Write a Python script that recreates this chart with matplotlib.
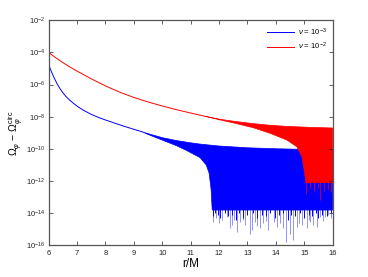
import numpy as np
import matplotlib
matplotlib.use("Agg")
import matplotlib.pyplot as plt

plt.rcParams['font.family'] = ['Liberation Sans', 'DejaVu Sans']
plt.rcParams['mathtext.fontset'] = 'custom'
plt.rcParams['mathtext.rm'] = 'Liberation Sans'
plt.rcParams['mathtext.it'] = 'Liberation Sans:italic'

# ---- nu = 1e-3 (blue), log10 values ----
blue_r = [6.0, 6.1, 6.2, 6.3, 6.4, 6.5, 6.6, 6.75, 6.9, 7.05, 7.25, 7.5, 7.75, 8.0,
          8.3, 8.6, 9.0, 9.3]
blue_log = [-4.75, -5.2, -5.6, -5.95, -6.25, -6.5, -6.72, -6.98, -7.2, -7.4, -7.62,
            -7.85, -8.04, -8.2, -8.38, -8.56, -8.78, -8.94]
blue_up_r = [9.3, 9.5, 10.0, 10.5, 11.0, 11.33, 12.0, 13.0, 14.0, 15.0, 16.0]
blue_up_log = [-8.94, -9.05, -9.3, -9.48, -9.62, -9.7, -9.82, -9.93, -9.99, -10.03, -10.05]
blue_lo_r = [9.3, 9.5, 10.0, 10.5, 10.86, 11.33, 11.55, 11.65, 11.72, 11.76, 16.0]
blue_lo_log = [-8.94, -9.1, -9.45, -9.8, -10.1, -10.54, -11.0, -11.5, -12.5, -13.8, -13.8]
blue_spike_r = [11.80, 11.90, 12.10, 12.27, 12.39, 12.51, 12.63, 12.74, 12.92, 13.10,
                13.15, 13.27, 13.45, 13.56, 13.74, 13.92, 14.04, 14.15, 14.36, 14.50,
                14.60, 14.74, 14.92, 15.09, 15.21, 15.32, 15.44, 15.56, 15.74, 15.85,
                12.0, 12.45, 12.85, 13.35, 13.65, 14.25, 14.8, 15.15, 15.65, 15.95]
blue_spike_log = [-14.53, -14.32, -14.43, -14.22, -14.94, -14.43, -15.15, -14.53, -14.74, -15.26,
                  -15.05, -14.53, -14.94, -14.63, -15.05, -14.53, -14.84, -14.63, -15.78, -15.26,
                  -15.67, -14.84, -14.74, -14.94, -14.53, -14.74, -14.84, -14.22, -14.22, -14.11,
                  -14.6, -14.7, -14.4, -14.8, -14.5, -14.9, -14.6, -14.4, -14.5, -14.3]
blue_edge_r = [11.78, 11.85, 11.95, 12.05, 12.2, 12.33, 12.45, 12.58, 12.7, 12.85, 13.0,
               13.2, 13.35, 13.5, 13.65, 13.8, 13.98, 14.1, 14.25, 14.42, 14.55, 14.68,
               14.85, 15.0, 15.15, 15.27, 15.4, 15.5, 15.62, 15.8, 15.95]
blue_edge_log = [-14.2, -14.0, -14.1, -14.3, -14.0, -14.2, -14.1, -14.4, -14.0, -14.3, -14.1,
                 -14.0, -14.3, -14.1, -14.2, -14.0, -14.3, -14.1, -14.0, -14.4, -14.1, -14.2,
                 -14.0, -14.3, -14.1, -14.2, -14.0, -14.3, -14.1, -14.2, -14.0]

# ---- nu = 1e-2 (red) ----
red_r = [6.0, 6.25, 6.5, 6.75, 7.0, 7.5, 8.0, 8.5, 9.0, 9.5, 10.0, 10.5, 11.0, 11.5]
red_log = [-4.0, -4.33, -4.63, -4.91, -5.16, -5.64, -6.08, -6.47, -6.8, -7.08, -7.33,
           -7.56, -7.77, -7.97]
red_up_r = [11.5, 12.04, 12.6, 13.21, 13.8, 14.39, 15.2, 16.0]
red_up_log = [-7.97, -8.16, -8.3, -8.43, -8.53, -8.6, -8.66, -8.7]
red_lo_r = [11.5, 12.04, 12.6, 13.2, 13.8, 14.39, 14.74, 14.92, 15.03, 15.06, 16.0]
red_lo_log = [-7.97, -8.2, -8.42, -8.68, -9.03, -9.45, -9.87, -10.49, -11.73, -12.1, -12.1]
red_spike_r = [15.07, 15.2, 15.35, 15.5, 15.56, 15.7, 15.85, 15.95]
red_spike_log = [-12.8, -12.5, -12.6, -12.4, -13.2, -12.6, -12.5, -12.7]

labels = [r'$\nu$ = 10$^{-3}$', r'$\nu$ = 10$^{-2}$']
xticks = [6, 7, 8, 9, 10, 11, 12, 13, 14, 15, 16]
ytick_exp = [-2, -4, -6, -8, -10, -12, -14, -16]

blue = '#0000ff'
red = '#ff0000'

fig = plt.figure(figsize=(3.68, 2.77), dpi=100)
ax = fig.add_axes([0.132, 0.114, 0.772, 0.813])
ax.set_yscale('log')

def p(v):
    return 10.0 ** np.asarray(v, dtype=float)

# blue
ax.plot(blue_r, p(blue_log), color=blue, lw=0.7, label=labels[0])
ax.fill(np.r_[blue_up_r, blue_lo_r[::-1]], p(np.r_[blue_up_log, blue_lo_log[::-1]]),
        color=blue, lw=0.5)
ax.vlines(blue_edge_r, p(-13.7), p(blue_edge_log), color=blue, lw=0.7)
ax.vlines(blue_spike_r, p(-13.7), p(blue_spike_log), color=blue, lw=0.6, alpha=0.5)

# red
ax.plot(red_r, p(red_log), color=red, lw=0.7, label=labels[1])
ax.fill(np.r_[red_up_r, red_lo_r[::-1]], p(np.r_[red_up_log, red_lo_log[::-1]]),
        color=red, lw=0.5)
ax.vlines(red_spike_r, p(-12.0), p(red_spike_log), color=red, lw=0.6, alpha=0.8)

ax.set_xlim(6, 16)
ax.set_ylim(1e-16, 1e-2)
ax.set_xticks(xticks)
ax.set_xticklabels([str(t) for t in xticks])
ax.set_yticks(p(ytick_exp))
ax.set_yticklabels([r'10$^{%d}$' % e for e in ytick_exp])
ax.yaxis.set_minor_locator(matplotlib.ticker.NullLocator())
ax.tick_params(direction='in', top=True, right=True, length=3, width=0.5,
               labelsize=5.5, pad=3, colors='#222222')
ax.tick_params(axis='y', pad=2.5)
for s in ax.spines.values():
    s.set_color('#555555')
    s.set_linewidth(0.9)

ax.set_xlabel('r/M', fontsize=8.5, labelpad=1)
ax.set_ylabel(r'$\Omega_\varphi$ $-$ $\Omega_\varphi^{\rm circ}$', fontsize=7.5)
ax.yaxis.set_label_coords(-0.078, 0.5)

leg = ax.legend(loc='upper right', frameon=False, fontsize=5.5, handlelength=3.5,
                borderaxespad=0.4, labelspacing=0.45, handletextpad=0.5)
for l in leg.get_lines():
    l.set_linewidth(0.7)

fig.savefig('out.png', dpi=100)
